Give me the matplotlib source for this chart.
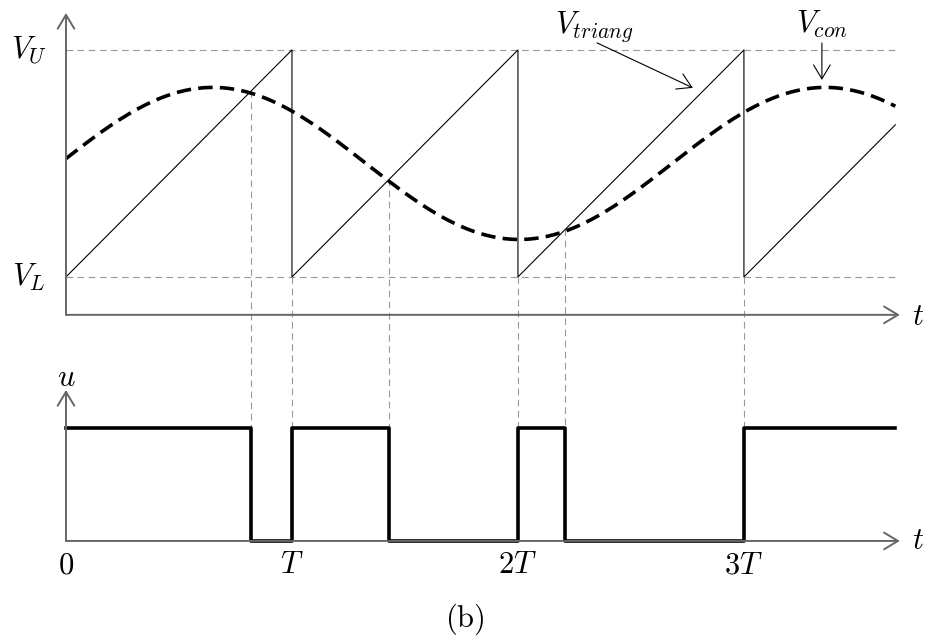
import numpy as np
import matplotlib
matplotlib.use("Agg")
import matplotlib.pyplot as plt

plt.rcParams["mathtext.fontset"] = "cm"

# sawtooth carrier: one ramp per period T, from V_L to V_U
period_starts = [0, 1, 2, 3]
t_end = 3.67
v_low, v_high = 0.0, 1.0

# control signal
con_mean = 0.5
con_amp = 0.335
con_peak_t = 0.65
con_period = 2.71

# PWM output: switching instants and level after each one
switch_t = [0, 0.82, 1.0, 1.43, 2.0, 2.21, 3.0, 3.67]
u_levels = [1, 0, 1, 0, 1, 0, 1, 1]

tick_t = [0, 1, 2, 3]
tick_labels = ["$0$", "$T$", "$2T$", "$3T$"]

# where the lower panel sits (in upper panel units)
u_base = -1.163
u_scale = 0.498

axis_col = "#666666"
guide_col = "#999999"

fig = plt.figure(figsize=(9.29, 6.39), dpi=100)
ax = fig.add_axes([0, 0, 1, 1])
ax.set_xlim(-0.292, 3.819)
ax.set_ylim(-1.595, 1.220)
ax.axis("off")


def arrow(x0, y0, x1, y1, color=axis_col, lw=1.4):
    ax.annotate("", xy=(x1, y1), xytext=(x0, y0),
                arrowprops=dict(arrowstyle="->,head_length=0.5,head_width=0.3",
                                color=color, lw=lw, shrinkA=0, shrinkB=0,
                                mutation_scale=20))


# axes of upper panel
arrow(0, -0.167, 0, 1.163)
arrow(0, -0.167, 3.69, -0.167)
# axes of lower panel
arrow(0, u_base, 0, -0.498)
arrow(0, u_base, 3.69, u_base)

# guide lines at V_U, V_L
for v in [v_low, v_high]:
    ax.plot([0, t_end], [v, v], color=guide_col, lw=0.8, ls=(0, (6, 4)))

# vertical guides from each crossing down to the pwm level
u_top = u_base + u_scale
for ts in switch_t[1:-1]:
    y_top = ts % 1.0 if ts % 1.0 > 1e-9 else v_low
    ax.plot([ts, ts], [y_top, u_top], color=guide_col, lw=0.8, ls=(0, (6, 4)))

# sawtooth
tri_x, tri_y = [], []
for s in period_starts:
    e = min(s + 1, t_end)
    tri_x += [s, e]
    tri_y += [v_low, v_low + (e - s) * (v_high - v_low)]
ax.plot(tri_x, tri_y, color="black", lw=0.8)

# control signal
t = np.linspace(0, t_end, 400)
v_con = con_mean + con_amp * np.cos(2 * np.pi * (t - con_peak_t) / con_period)
ax.plot(t, v_con, color="black", lw=2.6, ls=(0, (4, 2)))

# pwm signal
ax.step(switch_t, [u_base + u * u_scale for u in u_levels], where="post",
        color="black", lw=2.6)

# labels
fs = 22
ax.text(-0.165, v_high, "$V_U$", fontsize=fs, ha="center", va="center")
ax.text(-0.165, v_low, "$V_L$", fontsize=fs, ha="center", va="center")
ax.text(3.77, -0.175, "$t$", fontsize=fs, ha="center", va="center")
ax.text(3.77, u_base, "$t$", fontsize=fs, ha="center", va="center")
ax.text(0, -0.445, "$u$", fontsize=fs, ha="center", va="center")
for tt, lab in zip(tick_t, tick_labels):
    ax.text(tt, -1.269, lab, fontsize=fs, ha="center", va="center")
ax.text(1.765, -1.51, r"$\mathrm{(b)}$", fontsize=fs, ha="center", va="center")

ax.text(2.34, 1.075, "$V_{triang}$", fontsize=fs, ha="center", va="baseline")
arrow(2.35, 1.031, 2.774, 0.833, color="black", lw=0.8)
ax.text(3.345, 1.075, "$V_{con}$", fontsize=fs, ha="center", va="baseline")
arrow(3.345, 1.031, 3.345, 0.868, color="black", lw=0.8)

fig.savefig("out.png", dpi=100)
